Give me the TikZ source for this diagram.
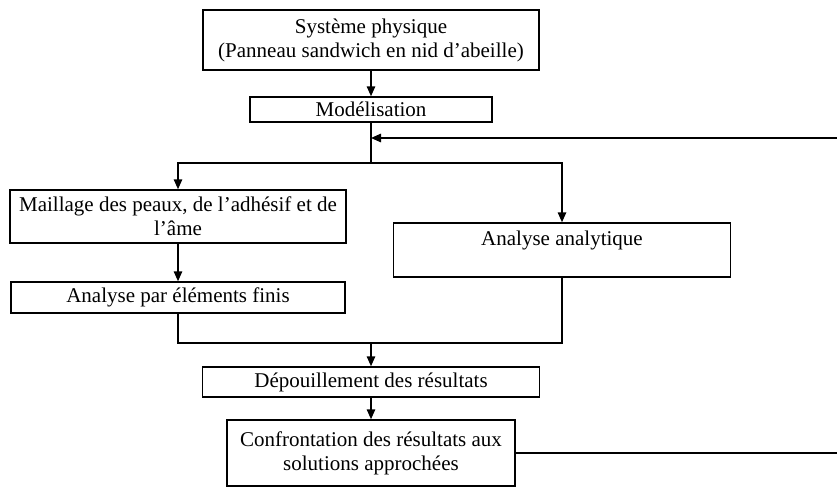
\documentclass[tikz,border=0pt]{standalone}
\usepackage{fontspec}
\setmainfont{Liberation Serif}
\usetikzlibrary{arrows.meta}

\begin{document}
\begin{tikzpicture}[x=1pt,y=-1pt,->,>={Triangle[length=10pt,width=8.5pt]},line width=1.5pt,main node/.style={draw,rectangle,align=center,inner sep=0pt,font=\fontsize{21}{24}\selectfont}]

	\useasboundingbox (0,0) rectangle (837,487);

	%nodes
	\node[main node, minimum width=336pt, minimum height=60pt] (Sys) at (371,40) {Système physique \\ (Panneau sandwich en nid d’abeille)};
	\node[main node, minimum width=242pt, minimum height=25pt] (Mod) at (371,109.5) {Modélisation};
	\node[main node, minimum width=336pt, minimum height=53pt] (Mail) at (178,216.5) {Maillage des peaux, de l’adhésif et de \\ l’âme};
	\node[main node, minimum width=337pt, minimum height=54pt] (Analy) at (562,250) {Analyse analytique \\ \mbox{}};
	\node[main node, minimum width=334pt, minimum height=31pt] (Aef) at (178,297.5) {Analyse par éléments finis};
	\node[main node, minimum width=337pt, minimum height=30pt] (Dep) at (371,382) {Dépouillement des résultats};
	\node[main node, minimum width=288pt, minimum height=66pt] (Conf) at (371,453) {Confrontation des résultats aux \\ solutions approchées};

	%branch points
	\coordinate (Split) at (371,163);
	\coordinate (Join) at (371,343);
	\coordinate (FbTop) at (837,138);
	\coordinate (FbBot) at (837,453);

	%straight arrows
	\path
		(Sys) edge (Mod)
		(Mail) edge (Aef)
		(Join) edge (Dep)
		(Dep) edge (Conf);

	%split after modelling
	\draw[-] (Mod) -- (Split);
	\draw (Split) -| (Mail);
	\draw (Split) -| (Analy);

	%join before post-processing
	\draw[-] (Aef) |- (Join);
	\draw[-] (Analy) |- (Join);

	%feedback loop
	\draw[-] (Conf) -- (FbBot);
	\draw (FbTop) -- (FbTop -| Split);

\end{tikzpicture}
\end{document}
